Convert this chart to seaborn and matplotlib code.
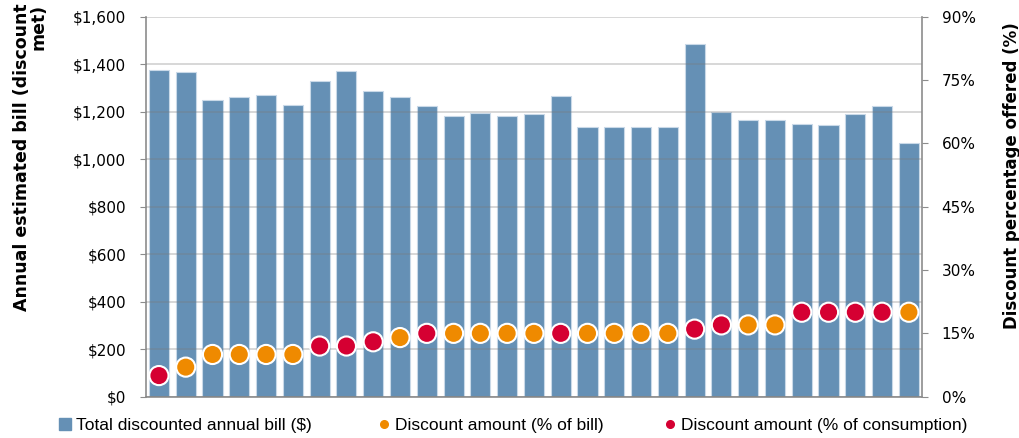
# Recreated chart: annual bill bars with discount percentage dots
import numpy as np
import pandas as pd
import matplotlib
matplotlib.use("Agg")
import matplotlib.pyplot as plt
from matplotlib.lines import Line2D
import matplotlib.ticker as mticker
import seaborn as sns

# Data
offers = [f"Offer {i}" for i in range(1, 30)]
annual_bill = [1375, 1365, 1250, 1260, 1270, 1230, 1330, 1370, 1285, 1260,
               1222, 1180, 1193, 1180, 1190, 1265, 1135, 1135, 1135, 1135,
               1485, 1200, 1163, 1163, 1150, 1143, 1190, 1225, 1070]
discount_pct = [5, 7, 10, 10, 10, 10, 12, 12, 13, 14,
                15, 15, 15, 15, 15, 15, 15, 15, 15, 15,
                16, 17, 17, 17, 20, 20, 20, 20, 20]
discount_basis = ["cons", "bill", "bill", "bill", "bill", "bill", "cons", "cons", "cons", "bill",
                  "cons", "bill", "bill", "bill", "bill", "cons", "bill", "bill", "bill", "bill",
                  "cons", "cons", "bill", "bill", "cons", "cons", "cons", "cons", "bill"]
legend_labels = ["Total discounted annual bill ($)",
                 "Discount amount (% of bill)",
                 "Discount amount (% of consumption)"]

bar_color = "#6590b5"
orange = "#ef8a00"
red = "#d50032"
axis_grey = "#8c8c8c"

df = pd.DataFrame({"offer": offers, "bill": annual_bill,
                   "pct": discount_pct, "basis": discount_basis})
df["pos"] = np.arange(len(df))

plt.rcParams["font.family"] = ["DejaVu Sans"]

fig = plt.figure(figsize=(10.2, 4.38), dpi=100)
ax = fig.add_axes([0.1427, 0.0943, 0.7615, 0.8677])

# Bars
sns.barplot(x="pos", y="bill", data=df, color=bar_color, width=0.75,
            edgecolor="#c9d9e8", linewidth=0.8, saturation=1, ax=ax)
ax.set_xlim(-0.5, len(df) - 0.5)
ax.set_ylim(0, 1600)
ax.yaxis.set_major_locator(mticker.MultipleLocator(200))
ax.yaxis.set_major_formatter(mticker.FuncFormatter(lambda v, p: f"${v:,.0f}"))
ax.set_xticks([])
ax.set_xlabel("")
ax.set_ylabel("Annual estimated bill (discount\nmet)", fontsize=12.5,
              fontweight="bold", linespacing=0.95, multialignment="right")
ax.yaxis.set_label_coords(-0.1256, 0.63)

# Grid drawn over the bars
ax.grid(axis="y", color="#7a7a7a", alpha=0.35, linewidth=1.2)
ax.set_axisbelow(False)

for s in ["top", "right"]:
    ax.spines[s].set_visible(False)
for s in ["left", "bottom"]:
    ax.spines[s].set_color(axis_grey)
    ax.spines[s].set_linewidth(1.2)
ax.tick_params(axis="y", labelsize=11, length=4, color=axis_grey, pad=10)

# Discount dots on the right axis
ax2 = ax.twinx()
sns.scatterplot(x="pos", y="pct", data=df, hue="basis",
                palette={"bill": orange, "cons": red}, s=190,
                edgecolor="white", linewidth=1.5, legend=False, ax=ax2, zorder=5)
ax2.set_ylim(0, 90)
ax2.set_xlim(-0.5, len(df) - 0.5)
ax2.yaxis.set_major_locator(mticker.MultipleLocator(15))
ax2.yaxis.set_major_formatter(mticker.FuncFormatter(lambda v, p: f"{v:.0f}%"))
ax2.set_ylabel("Discount percentage offered (%)", fontsize=12,
               fontweight="bold")
ax2.yaxis.set_label_coords(1.1043, 0.583)
for s in ["top", "left", "bottom"]:
    ax2.spines[s].set_visible(False)
ax2.spines["right"].set_color(axis_grey)
ax2.spines["right"].set_linewidth(1.2)
ax2.tick_params(axis="y", labelsize=11, length=4, color=axis_grey, pad=10)

# Legend along the bottom, one entry per slot
handles = [
    Line2D([], [], marker="s", linestyle="", color=bar_color, markersize=8),
    Line2D([], [], marker="o", linestyle="", color=orange, markersize=5.5),
    Line2D([], [], marker="o", linestyle="", color=red, markersize=5.5),
]
marker_x = [65, 384, 670]
for h, lab, mx in zip(handles, legend_labels, marker_x):
    fig.legend([h], [lab], loc="center left",
               bbox_to_anchor=((mx - 5.2) / 1020, 13 / 438),
               frameon=False, borderpad=0, borderaxespad=0,
               handlelength=0.6, handletextpad=0.35,
               prop={"family": "Liberation Sans", "size": 12.5})

fig.savefig("out.png", dpi=100)
